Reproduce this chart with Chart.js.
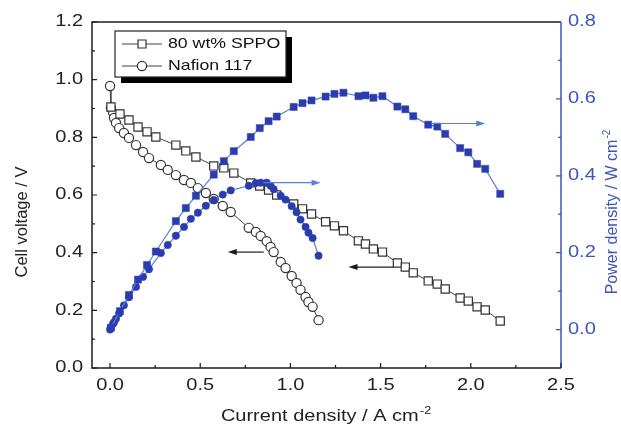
<!DOCTYPE html>
<html>
<head>
<meta charset="utf-8">
<script src="https://cdn.jsdelivr.net/npm/chart.js@4.4.0/dist/chart.umd.min.js"></script>
<style>
  body { margin: 0; background: #fff; }
  #wrap { width: 621px; height: 433px; }
</style>
</head>
<body>
<div id="wrap"><canvas id="chart"></canvas></div>
<script>
// values
const sppoCurrent = [0.005, 0.055, 0.105, 0.155, 0.205, 0.254, 0.365, 0.42, 0.476, 0.575, 0.631, 0.686,
  0.78, 0.83, 0.879, 0.924, 1.018, 1.067, 1.117, 1.195, 1.244, 1.294, 1.377, 1.416, 1.46, 1.51,
  1.593, 1.637, 1.681, 1.764, 1.814, 1.858, 1.941, 1.986, 2.035, 2.08, 2.163];
const sppoVoltage = [0.905, 0.881, 0.86, 0.836, 0.819, 0.801, 0.773, 0.753, 0.732, 0.701, 0.694, 0.676,
  0.642, 0.631, 0.617, 0.6, 0.569, 0.552, 0.534, 0.507, 0.493, 0.476, 0.441, 0.43, 0.413, 0.402,
  0.364, 0.35, 0.33, 0.302, 0.291, 0.274, 0.243, 0.232, 0.212, 0.201, 0.163];
const sppoPower = [0.005, 0.048, 0.09, 0.13, 0.168, 0.203, 0.282, 0.316, 0.348, 0.403, 0.438, 0.464,
  0.501, 0.524, 0.542, 0.554, 0.579, 0.589, 0.596, 0.606, 0.613, 0.616, 0.607, 0.609, 0.603, 0.607,
  0.58, 0.573, 0.555, 0.533, 0.528, 0.509, 0.472, 0.461, 0.431, 0.418, 0.353];

const nafionCurrent = [0.0, 0.005, 0.017, 0.022, 0.033, 0.05, 0.077, 0.105, 0.144, 0.183, 0.216, 0.282,
  0.32, 0.365, 0.41, 0.448, 0.487, 0.531, 0.575, 0.625, 0.669, 0.769, 0.808, 0.835, 0.868, 0.89,
  0.907, 0.946, 0.973, 1.007, 1.034, 1.056, 1.084, 1.1, 1.123, 1.156];
const nafionVoltage = [0.978, 0.902, 0.885, 0.867, 0.85, 0.832, 0.815, 0.798, 0.773, 0.749, 0.728, 0.704,
  0.687, 0.669, 0.652, 0.642, 0.624, 0.607, 0.586, 0.562, 0.541, 0.486, 0.472, 0.458, 0.44, 0.42,
  0.402, 0.368, 0.347, 0.319, 0.295, 0.271, 0.246, 0.229, 0.212, 0.166];
const nafionPower = [0.0, 0.005, 0.015, 0.019, 0.028, 0.042, 0.063, 0.084, 0.111, 0.137, 0.157, 0.199,
  0.22, 0.244, 0.267, 0.288, 0.304, 0.322, 0.337, 0.351, 0.362, 0.374, 0.381, 0.382, 0.382, 0.374,
  0.365, 0.348, 0.338, 0.321, 0.305, 0.286, 0.267, 0.252, 0.238, 0.192];

const currentTicks = [0, 0.5, 1.0, 1.5, 2.0, 2.5];
const currentMinor = [0.25, 0.75, 1.25, 1.75, 2.25];
const voltageTicks = [0, 0.2, 0.4, 0.6, 0.8, 1.0, 1.2];
const voltageMinor = [0.1, 0.3, 0.5, 0.7, 0.9, 1.1];
const powerTicks = [0, 0.2, 0.4, 0.6, 0.8];
const powerMinor = [0.1, 0.3, 0.5, 0.7];

// arrows pointing at the axis each curve belongs to
const arrowAxis = ['y1', 'y1', 'y', 'y'];
const arrowLevel = [0.536, 0.382, 0.402, 0.35];
const arrowStart = [1.78, 0.85, 0.852, 1.571];
const arrowEnd = [2.08, 1.167, 0.653, 1.322];

const FONT = '"Liberation Sans", Arial, sans-serif';
const INK = '#1c1c1c';
const AXIS_BLUE = '#3d55b8';
const MARK_BLUE = '#2b3cae';
const LINE_BLUE = '#5a7fd8';

function pts(xs, ys) {
  return xs.map((v, i) => ({ x: v, y: ys[i] }));
}

function label(ctx, str, x, y, opt) {
  ctx.save();
  ctx.translate(x, y);
  ctx.scale(opt.stretch || 1, 1);
  if (opt.rotate) ctx.rotate(opt.rotate);
  ctx.font = (opt.size || 16) + 'px ' + FONT;
  ctx.fillStyle = opt.color || INK;
  ctx.textAlign = opt.align || 'center';
  ctx.textBaseline = 'middle';
  if (opt.sup) {
    const w = ctx.measureText(str).width;
    ctx.font = '10px ' + FONT;
    const ws = ctx.measureText(opt.sup).width;
    const start = -(w + ws + 1) / 2;
    ctx.textAlign = 'left';
    ctx.font = (opt.size || 16) + 'px ' + FONT;
    ctx.fillText(str, start, 0);
    ctx.font = '10px ' + FONT;
    ctx.fillText(opt.sup, start + w + 1, -6);
  } else {
    ctx.fillText(str, 0, 0);
  }
  ctx.restore();
}

const decor = {
  id: 'decor',
  afterDraw(chart) {
    const { ctx, chartArea: a, scales } = chart;
    const sx = scales.x, sy = scales.y, sp = scales.y1;
    ctx.save();

    // frame
    ctx.lineWidth = 1.5;
    ctx.strokeStyle = INK;
    ctx.beginPath();
    ctx.moveTo(a.right, a.top);
    ctx.lineTo(a.left, a.top);
    ctx.lineTo(a.left, a.bottom);
    ctx.lineTo(a.right, a.bottom);
    ctx.stroke();
    ctx.strokeStyle = AXIS_BLUE;
    ctx.beginPath();
    ctx.moveTo(a.right, a.top);
    ctx.lineTo(a.right, a.bottom);
    ctx.stroke();

    // inward ticks
    ctx.lineWidth = 1.2;
    ctx.strokeStyle = INK;
    ctx.beginPath();
    currentTicks.forEach(v => { const px = sx.getPixelForValue(v); ctx.moveTo(px, a.bottom); ctx.lineTo(px, a.bottom - 5); });
    currentMinor.forEach(v => { const px = sx.getPixelForValue(v); ctx.moveTo(px, a.bottom); ctx.lineTo(px, a.bottom - 3); });
    voltageTicks.forEach(v => { const py = sy.getPixelForValue(v); ctx.moveTo(a.left, py); ctx.lineTo(a.left + 5, py); });
    voltageMinor.forEach(v => { const py = sy.getPixelForValue(v); ctx.moveTo(a.left, py); ctx.lineTo(a.left + 3, py); });
    ctx.stroke();
    ctx.strokeStyle = AXIS_BLUE;
    ctx.beginPath();
    powerTicks.forEach(v => { const py = sp.getPixelForValue(v); ctx.moveTo(a.right, py); ctx.lineTo(a.right - 5, py); });
    powerMinor.forEach(v => { const py = sp.getPixelForValue(v); ctx.moveTo(a.right, py); ctx.lineTo(a.right - 3, py); });
    ctx.stroke();

    // tick labels (figure text is a little stretched sideways)
    currentTicks.forEach(v => label(ctx, v.toFixed(1), sx.getPixelForValue(v), 386, { stretch: 1.25, color: '#222' }));
    voltageTicks.forEach(v => label(ctx, v.toFixed(1), 83, sy.getPixelForValue(v), { stretch: 1.25, align: 'right', color: '#222' }));
    powerTicks.forEach(v => label(ctx, v.toFixed(1), 568, sp.getPixelForValue(v), { stretch: 1.25, align: 'left', color: AXIS_BLUE }));

    // axis titles
    label(ctx, 'Current density / A cm', 326, 417, { stretch: 1.25, sup: '-2', color: '#222' });
    label(ctx, 'Cell voltage / V', 22, 222, { rotate: -Math.PI / 2, size: 16.5, color: '#222' });
    label(ctx, 'Power density / W cm', 613, 212, { rotate: -Math.PI / 2, sup: '-2', color: AXIS_BLUE });

    // arrows
    arrowAxis.forEach((ax, i) => {
      const py = scales[ax].getPixelForValue(arrowLevel[i]);
      const x0 = sx.getPixelForValue(arrowStart[i]);
      const x1 = sx.getPixelForValue(arrowEnd[i]);
      const dir = Math.sign(x1 - x0);
      const col = ax === 'y1' ? LINE_BLUE : INK;
      ctx.strokeStyle = col;
      ctx.fillStyle = col;
      ctx.lineWidth = 1.2;
      ctx.beginPath();
      ctx.moveTo(x0, py);
      ctx.lineTo(x1 - dir * 6, py);
      ctx.stroke();
      ctx.beginPath();
      ctx.moveTo(x1, py);
      ctx.lineTo(x1 - dir * 9, py - 3);
      ctx.lineTo(x1 - dir * 9, py + 3);
      ctx.closePath();
      ctx.fill();
    });

    // legend box with drop shadow
    ctx.fillStyle = '#000';
    ctx.fillRect(121, 37, 171, 46);
    ctx.fillStyle = '#fff';
    ctx.fillRect(115, 31, 171, 46);
    ctx.strokeStyle = '#222';
    ctx.lineWidth = 1.2;
    ctx.strokeRect(115, 31, 171, 46);
    [44, 66].forEach((ly, i) => {
      ctx.strokeStyle = '#444';
      ctx.lineWidth = 1;
      ctx.beginPath();
      ctx.moveTo(122, ly);
      ctx.lineTo(162, ly);
      ctx.stroke();
      ctx.fillStyle = '#fff';
      ctx.strokeStyle = '#333';
      ctx.lineWidth = 1.2;
      ctx.beginPath();
      if (i === 0) ctx.rect(138, ly - 4, 8, 8);
      else ctx.arc(142, ly, 4.6, 0, Math.PI * 2);
      ctx.fill();
      ctx.stroke();
    });
    label(ctx, '80 wt% SPPO', 168, 44, { stretch: 1.18, size: 15, align: 'left', color: '#111' });
    label(ctx, 'Nafion 117', 168, 66, { stretch: 1.18, size: 15, align: 'left', color: '#111' });

    ctx.restore();
  }
};

new Chart(document.getElementById('chart'), {
  type: 'scatter',
  data: {
    datasets: [
      {
        label: '80 wt% SPPO power',
        data: pts(sppoCurrent, sppoPower),
        yAxisID: 'y1',
        showLine: true,
        borderColor: LINE_BLUE,
        borderWidth: 1.2,
        pointStyle: 'rect',
        pointRadius: 5,
        pointBackgroundColor: MARK_BLUE,
        pointBorderColor: MARK_BLUE,
        pointBorderWidth: 0.5
      },
      {
        label: 'Nafion 117 power',
        data: pts(nafionCurrent, nafionPower),
        yAxisID: 'y1',
        showLine: true,
        borderColor: LINE_BLUE,
        borderWidth: 1.2,
        pointStyle: 'circle',
        pointRadius: 3.7,
        pointBackgroundColor: MARK_BLUE,
        pointBorderColor: MARK_BLUE,
        pointBorderWidth: 0.5
      },
      {
        label: '80 wt% SPPO',
        data: pts(sppoCurrent, sppoVoltage),
        yAxisID: 'y',
        showLine: true,
        borderColor: '#444',
        borderWidth: 1,
        pointStyle: 'rect',
        pointRadius: 5.8,
        pointBackgroundColor: '#fff',
        pointBorderColor: '#333',
        pointBorderWidth: 1.2
      },
      {
        label: 'Nafion 117',
        data: pts(nafionCurrent, nafionVoltage),
        yAxisID: 'y',
        showLine: true,
        borderColor: '#444',
        borderWidth: 1,
        pointStyle: 'circle',
        pointRadius: 4.6,
        pointBackgroundColor: '#fff',
        pointBorderColor: '#333',
        pointBorderWidth: 1.2
      }
    ]
  },
  options: {
    responsive: true,
    maintainAspectRatio: false,
    animation: false,
    layout: { padding: { top: 22, left: 0, right: 0, bottom: 0 } },
    plugins: {
      legend: { display: false },
      tooltip: { enabled: false }
    },
    scales: {
      x: {
        type: 'linear',
        position: 'bottom',
        min: -0.1,
        max: 2.5,
        grid: { display: false, drawTicks: false },
        border: { display: false },
        ticks: { display: false },
        afterFit: s => { s.height = 65; }
      },
      y: {
        type: 'linear',
        position: 'left',
        min: 0,
        max: 1.2,
        grid: { display: false, drawTicks: false },
        border: { display: false },
        ticks: { display: false },
        afterFit: s => { s.width = 92; }
      },
      y1: {
        type: 'linear',
        position: 'right',
        min: -0.1,
        max: 0.8,
        grid: { display: false, drawTicks: false },
        border: { display: false },
        ticks: { display: false },
        afterFit: s => { s.width = 60; }
      }
    }
  },
  plugins: [decor]
});
</script>
</body>
</html>
